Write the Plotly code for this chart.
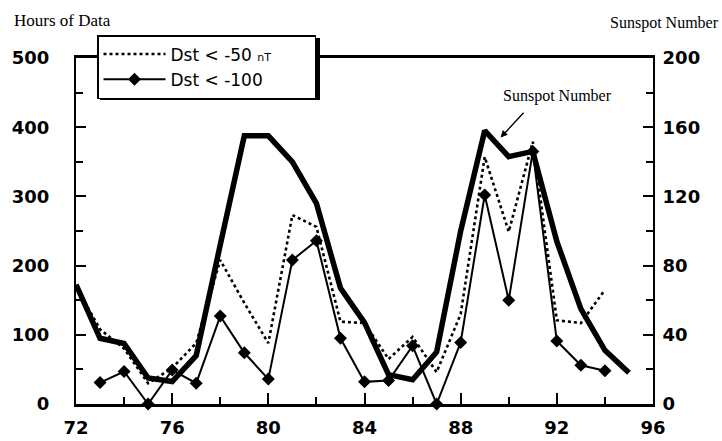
import plotly.graph_objects as go

years = list(range(72, 96))
sunspot = [69, 38, 35, 15, 13, 28, 92, 155, 155, 140, 116, 67, 47, 17, 14, 30, 100, 158, 143, 146, 94, 55, 31, 18]

dst50_years = list(range(72, 95))
dst50 = [170, 108, 80, 30, 52, 88, 208, 146, 88, 273, 256, 119, 117, 65, 97, 46, 130, 357, 249, 379, 121, 117, 165]

dst100_years = list(range(73, 95))
dst100 = [31, 47, 0, 49, 30, 127, 74, 36, 208, 236, 95, 32, 34, 84, 0, 89, 302, 150, 365, 91, 56, 48]

tick_font = dict(family="DejaVu Sans", size=18, color="black", weight="bold")
NB = "\u00a0"

W, H = 722, 441
L, R, T, B = 76, 69, 58, 37
PW, PH = W - L - R, H - T - B


def px(x):
    return (x - L) / PW


def py(y):
    return (H - B - y) / PH


fig = go.Figure()
fig.add_trace(go.Scatter(
    x=dst50_years, y=dst50, mode="lines",
    name="Dst < -50 <span style='font-size:11px'>nT</span>" + NB * 7,
    line=dict(color="black", width=2.6, dash="dot"),
))
fig.add_trace(go.Scatter(
    x=dst100_years, y=dst100, mode="lines+markers",
    name="Dst < -100",
    line=dict(color="black", width=2),
    marker=dict(symbol="diamond", size=10, color="black"),
    cliponaxis=False,
))
fig.add_trace(go.Scatter(
    x=years, y=sunspot, mode="lines", yaxis="y2",
    name="Sunspot Number", showlegend=False,
    line=dict(color="black", width=5.5),
))

fig.update_layout(
    width=W, height=H,
    margin=dict(l=L, r=R, t=T, b=B, autoexpand=False),
    paper_bgcolor="white", plot_bgcolor="white",
    font=dict(family="DejaVu Sans", color="black"),
    xaxis=dict(
        range=[72, 96], tickvals=[72, 76, 80, 84, 88, 92, 96], automargin=False,
        ticks="inside", ticklen=11, tickwidth=1.5, tickcolor="black",
        minor=dict(tickvals=[74, 78, 82, 86, 90, 94], ticks="inside", ticklen=7, tickwidth=1.5, tickcolor="black"),
        showline=True, linewidth=2.5, linecolor="black", mirror=True,
        showgrid=False, zeroline=False, tickfont=tick_font, ticklabelstandoff=6,
    ),
    yaxis=dict(
        range=[0, 500], tickvals=[0, 100, 200, 300, 400, 500], automargin=False,
        ticks="inside", ticklen=10, tickwidth=1.5, tickcolor="black",
        minor=dict(tickvals=[50, 150, 250, 350, 450], ticks="inside", ticklen=7, tickwidth=1.5, tickcolor="black"),
        showline=True, linewidth=2, linecolor="black", mirror=True,
        showgrid=False, zeroline=False, tickfont=tick_font, ticklabelstandoff=21,
    ),
    yaxis2=dict(
        range=[0, 200], overlaying="y", side="right", automargin=False,
        tickvals=[0, 40, 80, 120, 160, 200],
        ticks="inside", ticklen=10, tickwidth=1.5, tickcolor="black",
        minor=dict(tickvals=[20, 60, 100, 140, 180], ticks="inside", ticklen=7, tickwidth=1.5, tickcolor="black"),
        showline=True, linewidth=2, linecolor="black",
        showgrid=False, zeroline=False, tickfont=tick_font, ticklabelstandoff=4,
    ),
    legend=dict(
        x=px(97), y=py(35), xanchor="left", yanchor="top",
        bgcolor="white", bordercolor="black", borderwidth=1.5,
        font=dict(family="DejaVu Sans", size=17, color="black"),
        tracegroupgap=0, itemwidth=62,
    ),
    shapes=[
        dict(type="rect", xref="paper", yref="paper", layer="above",
             x0=px(100), x1=px(320), y0=py(100), y1=py(38),
             fillcolor="black", line=dict(width=0)),
    ],
    annotations=[
        dict(text="Hours of Data", xref="paper", yref="paper",
             x=px(12), y=py(20), xanchor="left", yanchor="middle",
             showarrow=False, font=dict(family="Liberation Serif", size=17, color="black")),
        dict(text="Sunspot Number", xref="paper", yref="paper",
             x=px(721), y=py(23), xanchor="right", yanchor="middle",
             showarrow=False, font=dict(family="Liberation Serif", size=16, color="black")),
        dict(text="Sunspot Number", xref="paper", yref="paper",
             x=px(557), y=py(96), xanchor="center", yanchor="middle",
             showarrow=False, font=dict(family="Liberation Serif", size=16, color="black")),
        dict(text=" ", x=89.66, y=154, xref="x", yref="y2",
             showarrow=True, ax=25, ay=-27, arrowhead=2, arrowsize=1, arrowwidth=1.4,
             arrowcolor="black", standoff=0, font=dict(size=2)),
    ],
)

fig.write_html(
    "out.html",
    config={"displayModeBar": False},
    post_script="document.body.style.margin='0px';document.body.style.overflow='hidden';",
)
